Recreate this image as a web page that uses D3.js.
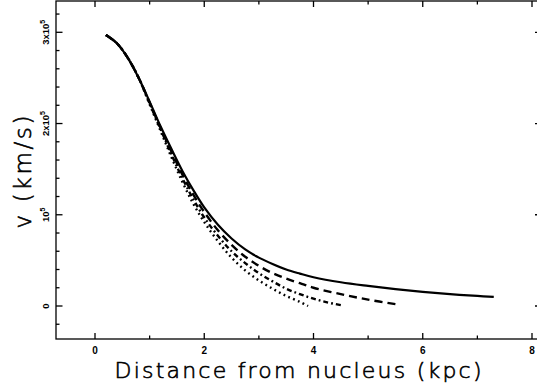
<!DOCTYPE html>
<html>
<head>
<meta charset="utf-8">
<script src="https://cdn.jsdelivr.net/npm/d3@7"></script>
<style>
  body { margin: 0; background: #fff; }
  svg { display: block; }
</style>
</head>
<body>
<div id="chart"></div>
<script>
// radius (kpc) and velocity (10^5 km/s)
var rSolid = [0.2, 0.4, 0.6, 0.8, 1.0, 1.2, 1.4, 1.6, 1.8, 2.0, 2.25, 2.5, 2.75, 3.0, 3.25, 3.5, 3.75, 4.0, 4.5, 5.0, 5.5, 6.0, 6.5, 7.0, 7.3];
var vSolid = [2.97, 2.88, 2.72, 2.50, 2.24, 1.97, 1.72, 1.48, 1.27, 1.08, 0.89, 0.74, 0.62, 0.53, 0.46, 0.40, 0.355, 0.315, 0.26, 0.22, 0.185, 0.155, 0.13, 0.11, 0.10];

var rDashed = [0.2, 0.4, 0.6, 0.8, 1.0, 1.2, 1.4, 1.6, 1.8, 2.0, 2.25, 2.5, 2.75, 3.0, 3.25, 3.5, 3.75, 4.0, 4.5, 5.0, 5.5];
var vDashed = [2.97, 2.88, 2.72, 2.50, 2.23, 1.95, 1.69, 1.44, 1.22, 1.03, 0.83, 0.67, 0.54, 0.44, 0.36, 0.30, 0.25, 0.20, 0.13, 0.07, 0.02];

var rDashDot = [0.2, 0.4, 0.6, 0.8, 1.0, 1.2, 1.4, 1.6, 1.8, 2.0, 2.25, 2.5, 2.75, 3.0, 3.25, 3.5, 3.75, 4.0, 4.25, 4.5];
var vDashDot = [2.97, 2.88, 2.72, 2.50, 2.22, 1.94, 1.66, 1.40, 1.17, 0.97, 0.77, 0.60, 0.47, 0.36, 0.27, 0.19, 0.13, 0.08, 0.04, 0.01];

var rDotted = [0.2, 0.4, 0.6, 0.8, 1.0, 1.2, 1.4, 1.6, 1.8, 2.0, 2.25, 2.5, 2.75, 3.0, 3.25, 3.5, 3.75, 3.9];
var vDotted = [2.97, 2.88, 2.72, 2.50, 2.21, 1.92, 1.63, 1.36, 1.12, 0.92, 0.71, 0.53, 0.39, 0.28, 0.19, 0.11, 0.045, 0.0];

var xMajor = [0, 2, 4, 6, 8];
var xMinor = [1, 3, 5, 7];
var yMajor = [0, 1, 2, 3];
var yMinor = [-0.2, 0.2, 0.4, 0.6, 0.8, 1.2, 1.4, 1.6, 1.8, 2.2, 2.4, 2.6, 2.8, 3.2];
var yLabels = [['0', ''], ['10', '5'], ['2x10', '5'], ['3x10', '5']];

var attrs = {
  svgWidth: 537,
  svgHeight: 391,
  left: 56,
  right: 538,
  top: 1,
  bottom: 339
};

var series = [
  { r: rSolid, v: vSolid, dash: null, width: 2.2 },
  { r: rDashed, v: vDashed, dash: '8,5', width: 2.4 },
  { r: rDashDot, v: vDashDot, dash: '5,3,1.8,3', width: 2.4 },
  { r: rDotted, v: vDotted, dash: '1.8,3.4', width: 2.4 }
];

var x = d3.scaleLinear().domain([0, 8]).range([95, 532]);
var y = d3.scaleLinear().domain([0, 3]).range([306, 32.3]);

var svg = d3.select('#chart')
  .append('svg')
  .attr('width', attrs.svgWidth)
  .attr('height', attrs.svgHeight)
  .attr('font-family', 'DejaVu Sans');

// frame
svg.append('rect')
  .attr('x', attrs.left)
  .attr('y', attrs.top)
  .attr('width', attrs.right - attrs.left)
  .attr('height', attrs.bottom - attrs.top)
  .attr('fill', 'none')
  .attr('stroke', '#000')
  .attr('stroke-width', 1.3);

// ticks
var ticks = svg.append('g').attr('stroke', '#000').attr('stroke-width', 1.3);

xMajor.concat(xMinor).forEach(function (t) {
  var len = xMajor.indexOf(t) >= 0 ? 6 : 3.5;
  ticks.append('line').attr('x1', x(t)).attr('x2', x(t)).attr('y1', attrs.bottom).attr('y2', attrs.bottom - len);
  ticks.append('line').attr('x1', x(t)).attr('x2', x(t)).attr('y1', attrs.top).attr('y2', attrs.top + len);
});

yMajor.concat(yMinor).forEach(function (t) {
  var major = yMajor.indexOf(t) >= 0;
  var len = major ? 6.5 : 3.5;
  ticks.append('line').attr('x1', attrs.left).attr('x2', attrs.left + len).attr('y1', y(t)).attr('y2', y(t));
  if (major) {
    ticks.append('line').attr('x1', attrs.right).attr('x2', attrs.right - 3).attr('y1', y(t)).attr('y2', y(t));
  }
});

// tick labels
svg.append('g')
  .selectAll('text')
  .data(xMajor)
  .enter()
  .append('text')
  .attr('x', d => x(d))
  .attr('y', 354)
  .attr('text-anchor', 'middle')
  .attr('font-size', 10)
  .attr('font-weight', 'bold')
  .attr('font-family', 'Liberation Sans')
  .text(d => d);

var yl = svg.append('g')
  .selectAll('text')
  .data(yMajor)
  .enter()
  .append('text')
  .attr('transform', d => 'translate(49,' + y(d) + ') rotate(-90)')
  .attr('text-anchor', 'middle')
  .attr('font-size', 9.5)
  .attr('font-weight', 'bold')
  .attr('font-family', 'Liberation Sans');

yl.append('tspan').text((d, i) => yLabels[i][0]);
yl.append('tspan')
  .attr('dy', -4)
  .attr('font-size', 7)
  .text((d, i) => yLabels[i][1]);

// curves
var line = d3.line()
  .x(d => x(d[0]))
  .y(d => y(d[1]))
  .curve(d3.curveCatmullRom.alpha(0.5));

svg.append('g')
  .selectAll('path')
  .data(series)
  .enter()
  .append('path')
  .attr('d', s => line(s.r.map((r, i) => [r, s.v[i]])))
  .attr('fill', 'none')
  .attr('stroke', '#000')
  .attr('stroke-width', s => s.width)
  .attr('stroke-dasharray', s => s.dash);

// axis titles (thin, stroked to look like a single-stroke font)
svg.append('text')
  .attr('x', 298)
  .attr('y', 378)
  .attr('text-anchor', 'middle')
  .attr('font-size', 22)
  .attr('font-weight', 200)
  .attr('fill', '#000')
  .attr('stroke', '#000')
  .attr('stroke-width', 0.6)
  .attr('textLength', 367)
  .attr('lengthAdjust', 'spacing')
  .text('Distance from nucleus (kpc)');

svg.append('text')
  .attr('transform', 'translate(31,172) rotate(-90)')
  .attr('text-anchor', 'middle')
  .attr('font-size', 23)
  .attr('font-weight', 200)
  .attr('fill', '#000')
  .attr('stroke', '#000')
  .attr('stroke-width', 0.6)
  .attr('textLength', 113)
  .attr('lengthAdjust', 'spacing')
  .text('v (km/s)');
</script>
</body>
</html>
